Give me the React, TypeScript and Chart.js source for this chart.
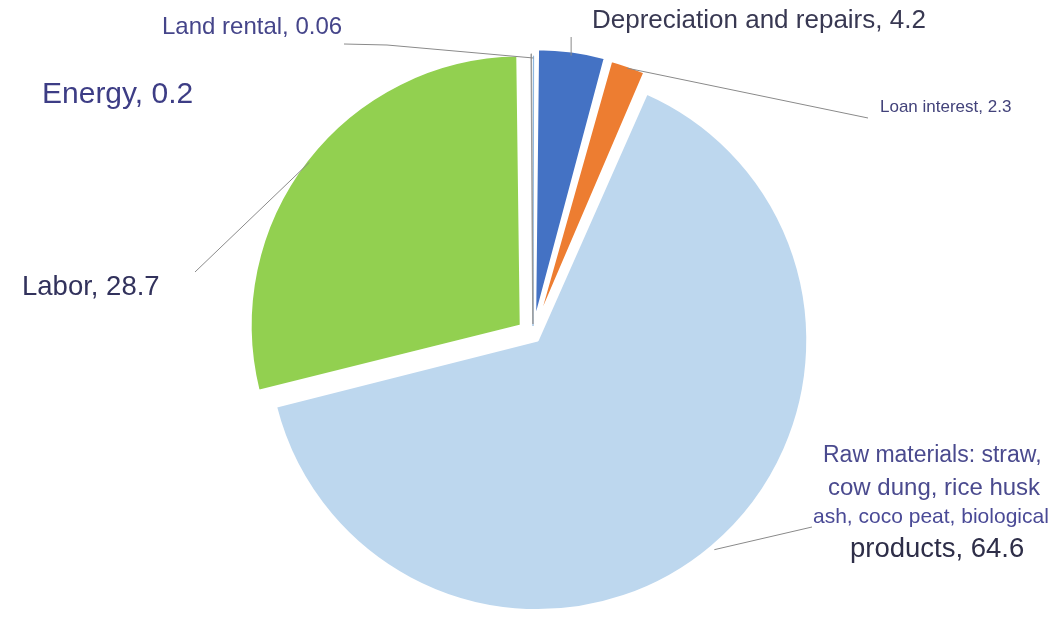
import React, { useEffect, useRef } from "react";
import { Chart, registerables } from "chart.js";

Chart.register(...registerables);

const categories = [
  "Land rental",
  "Depreciation and repairs",
  "Loan interest",
  "Raw materials: straw, cow dung, rice husk ash, coco peat, biological products",
  "Labor",
  "Energy",
];
const costShares = [0.06, 4.2, 2.3, 64.6, 28.7, 0.2];
const sliceColors = ["#8fb8e0", "#4472c4", "#ed7d31", "#bdd7ee", "#92d050", "#9a9a9a"];
const sliceBorders = ["#8fb8e0", "#ffffff", "#ffffff", "#ffffff", "#ffffff", "#9a9a9a"];
const sliceOffsets = [36, 64, 60, 28, 62, 44];

const FONT = '"Liberation Sans", Arial, sans-serif';

const fixRadius = {
  id: "fixRadius",
  afterDatasetUpdate(chart: any, args: any) {
    const meta = chart.getDatasetMeta(args.index);
    meta.data.forEach((arc: any) => {
      const o = ((arc.options && arc.options.offset) || 0) / 4;
      const fix = 1 - Math.sin(Math.min(Math.PI, arc.circumference || 0));
      arc.outerRadius = arc.outerRadius - o * fix;
    });
  },
};

function edgePoint(chart: any, i: number, extra: number) {
  const arc: any = chart.getDatasetMeta(0).data[i];
  const h = (arc.startAngle + arc.endAngle) / 2;
  const t = ((arc.options && arc.options.offset) || 0) / 4;
  const fix = 1 - Math.sin(Math.min(Math.PI, arc.circumference || 0));
  const r = arc.outerRadius + t * fix + t + extra;
  return { x: arc.x + Math.cos(h) * r, y: arc.y + Math.sin(h) * r };
}

const labelsPlugin = {
  id: "sliceLabels",
  afterDraw(chart: any) {
    const ctx = chart.ctx as CanvasRenderingContext2D;
    ctx.save();
    ctx.strokeStyle = "#8a8a8a";
    ctx.lineWidth = 1;
    const line = (pts: { x: number; y: number }[]) => {
      ctx.beginPath();
      ctx.moveTo(pts[0].x, pts[0].y);
      for (let k = 1; k < pts.length; k++) ctx.lineTo(pts[k].x, pts[k].y);
      ctx.stroke();
    };
    const pLand = edgePoint(chart, 0, -2);
    line([{ x: 344, y: 44 }, { x: 387, y: 45 }, pLand]);
    const pDep = edgePoint(chart, 1, -4);
    line([pDep, { x: pDep.x, y: 37 }]);
    const pLoan = edgePoint(chart, 2, -2);
    line([pLoan, { x: 868, y: 118 }]);
    const pRaw = edgePoint(chart, 3, 4);
    line([pRaw, { x: 812, y: 527 }]);
    const pLab = edgePoint(chart, 4, -3);
    line([pLab, { x: 195, y: 272 }]);

    ctx.textAlign = "left";
    ctx.textBaseline = "alphabetic";
    const text = (s: string, x: number, y: number, size: number, color: string) => {
      ctx.font = `${size}px ${FONT}`;
      ctx.fillStyle = color;
      ctx.fillText(s, x, y);
    };
    text(`${categories[0]}, ${costShares[0]}`, 162, 34, 24, "#45458a");
    text(`${categories[5]}, ${costShares[5]}`, 42, 103, 30, "#3d3d85");
    text(`${categories[1]}, ${costShares[1]}`, 592, 28, 26, "#383852");
    text(`${categories[2]}, ${costShares[2]}`, 880, 112, 17, "#42427a");
    text(`${categories[4]}, ${costShares[4]}`, 22, 295, 27.5, "#32325c");
    text("Raw materials: straw,", 823, 462, 23, "#4a4a8e");
    text("cow dung, rice husk", 828, 495, 24, "#4a4a8e");
    text("ash, coco peat, biological", 813, 523, 21, "#4a4a96");
    text(`products, ${costShares[3]}`, 850, 557, 27.5, "#2e2e48");
    ctx.restore();
  },
};

export default function App() {
  const ref = useRef<HTMLCanvasElement>(null);
  useEffect(() => {
    document.body.style.margin = "0";
    document.body.style.background = "#ffffff";
    if (!ref.current) return;
    const chart = new Chart(ref.current, {
      type: "pie",
      data: {
        labels: categories,
        datasets: [
          {
            data: costShares,
            backgroundColor: sliceColors,
            borderColor: sliceBorders,
            borderWidth: [1.2, 2, 2, 2.5, 2, 1.5],
            offset: sliceOffsets,
          },
        ],
      },
      options: {
        responsive: false,
        animation: false,
        radius: 270,
        layout: { padding: { left: 6, top: 50, right: 0, bottom: 0 } },
        plugins: {
          legend: { display: false },
          tooltip: { enabled: false },
        },
        events: [],
      },
      plugins: [fixRadius, labelsPlugin],
    } as any);
    return () => chart.destroy();
  }, []);
  return (
    <div style={{ width: 1060, height: 620, background: "#fff" }}>
      <canvas ref={ref} width={1060} height={620} style={{ display: "block" }} />
    </div>
  );
}
